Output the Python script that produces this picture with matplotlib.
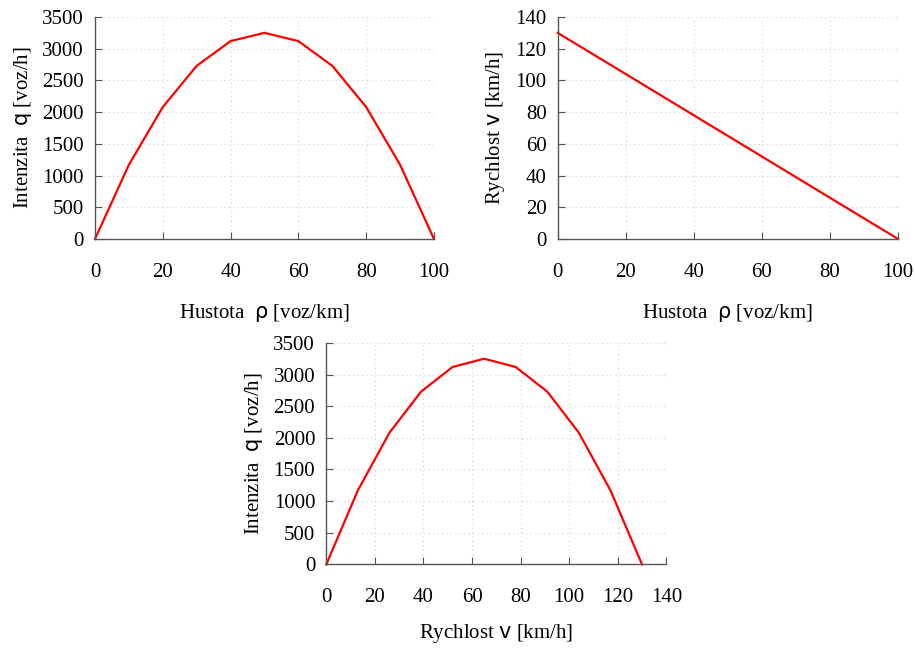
import matplotlib.pyplot as plt

# hodnoty
hustota = [0, 10, 20, 30, 40, 50, 60, 70, 80, 90, 100]
intenzita = [0, 1170, 2080, 2730, 3120, 3250, 3120, 2730, 2080, 1170, 0]
rychlost = [130, 117, 104, 91, 78, 65, 52, 39, 26, 13, 0]

plt.rcParams['font.family'] = ['Liberation Serif', 'DejaVu Sans']
plt.rcParams['mathtext.fontset'] = 'custom'
plt.rcParams['mathtext.rm'] = 'Liberation Serif'
plt.rcParams['mathtext.sf'] = 'DejaVu Sans'
plt.rcParams['font.size'] = 15

lbl_rho = r'Hustota  $\mathsf{\rho}$ [voz/km]'
lbl_q = r'Intenzita  $\mathsf{q}$ [voz/h]'
lbl_v = r'Rychlost $\mathsf{v}$ [km/h]'


def style(ax, xmax, ymax, xstep, ystep):
    ax.set_xlim(0, xmax)
    ax.set_ylim(0, ymax)
    ax.set_xticks(range(0, xmax + 1, xstep))
    ax.set_yticks(range(0, ymax + 1, ystep))
    for s in ['top', 'right']:
        ax.spines[s].set_visible(False)
    for s in ['left', 'bottom']:
        ax.spines[s].set_color('#555555')
        ax.spines[s].set_linewidth(1.0)
    ax.tick_params(direction='in', length=5, color='#555555', labelsize=15)
    ax.tick_params(axis='x', pad=17)
    ax.tick_params(axis='y', pad=8)
    ax.grid(True, linestyle=(0, (1, 3)), color='#d0d0d0', linewidth=0.8)
    ax.set_axisbelow(True)


fig = plt.figure(figsize=(9.15, 6.48), dpi=100)

ax1 = fig.add_axes([0.1038, 0.6312, 0.3705, 0.3426])
ax1.plot(hustota, intenzita, color='red', linewidth=1.6, clip_on=False)
style(ax1, 100, 3500, 20, 500)
ax1.set_xlabel(lbl_rho, labelpad=15)
ax1.set_ylabel(lbl_q, labelpad=6)

ax2 = fig.add_axes([0.6095, 0.6312, 0.3720, 0.3426])
ax2.plot(hustota, rychlost, color='red', linewidth=1.6, clip_on=False)
style(ax2, 100, 140, 20, 20)
ax2.set_xlabel(lbl_rho, labelpad=15)
ax2.set_ylabel(lbl_v, labelpad=6)

ax3 = fig.add_axes([0.3566, 0.1290, 0.3716, 0.3418])
ax3.plot(rychlost, intenzita, color='red', linewidth=1.6, clip_on=False)
style(ax3, 140, 3500, 20, 500)
ax3.set_xlabel(lbl_v, labelpad=11)
ax3.set_ylabel(lbl_q, labelpad=6)

fig.savefig('out.png', dpi=100)
